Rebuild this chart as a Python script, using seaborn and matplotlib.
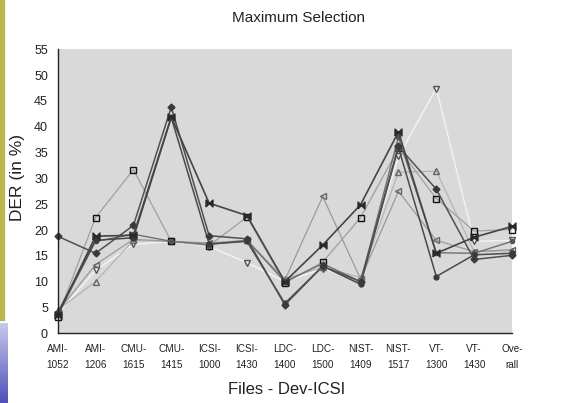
import matplotlib
matplotlib.use("Agg")
import matplotlib.pyplot as plt
from matplotlib.patches import Rectangle
import numpy as np
import pandas as pd
import seaborn as sns

# Files of the Dev-ICSI set (x axis)
files = ["AMI-\n1052", "AMI-\n1206", "CMU-\n1615", "CMU-\n1415", "ICSI-\n1000",
         "ICSI-\n1430", "LDC-\n1400", "LDC-\n1500", "NIST-\n1409", "NIST-\n1517",
         "VT-\n1300", "VT-\n1430", "Ove-\nrall"]

# DER (in %) of each system run, one list per run
der_tri_down = [3.8, 12.2, 17.2, 17.8, 16.8, 13.7, 10.0, 12.5, 10.2, 34.3, 47.4, 17.8, 18.0]
der_tri_up = [4.5, 10.0, 18.0, 17.8, 17.2, 18.0, 10.5, 12.8, 10.8, 31.2, 31.4, 15.8, 16.0]
der_tri_left = [4.2, 13.3, 18.2, 17.8, 17.5, 18.0, 10.3, 26.5, 10.5, 27.5, 18.0, 15.8, 16.2]
der_square = [3.2, 22.4, 31.7, 17.8, 17.0, 22.5, 9.7, 13.8, 22.4, 35.8, 26.1, 19.8, 20.1]
der_star = [3.5, 17.8, 19.2, 17.8, 17.2, 18.0, 10.0, 13.5, 10.0, 38.0, 15.6, 15.5, 17.8]
der_dot = [4.0, 18.0, 18.5, 41.8, 17.3, 17.8, 5.8, 13.0, 9.5, 36.0, 11.0, 15.2, 15.5]
der_diamond = [18.8, 15.5, 20.9, 43.8, 18.9, 18.3, 5.5, 13.0, 10.0, 36.2, 27.9, 14.3, 15.1]
der_bowtie = [3.5, 18.8, 19.0, 41.9, 25.2, 22.8, 10.0, 17.1, 24.9, 39.0, 15.5, 18.6, 20.7]

yticks = list(range(0, 56, 5))

bowtie = [(-1, -1), (-1, 1), (1, -1), (1, 1), (-1, -1)]

runs = [
    # name, values, line colour, marker, face, edge, line width, marker size
    ("tri_down", der_tri_down, "#f4f4f4", "v", "none", "#555555", 1.0, 4.0),
    ("tri_up", der_tri_up, "#b4b4b4", "^", "none", "#666666", 0.9, 4.0),
    ("tri_left", der_tri_left, "#9a9a9a", "<", "none", "#666666", 0.9, 4.0),
    ("square", der_square, "#a0a0a0", "s", "none", "#111111", 0.9, 4.5),
    ("star", der_star, "#707070", "o", "#555555", "#555555", 1.0, 3.0),
    ("dot", der_dot, "#4a4a4a", "o", "#3a3a3a", "#3a3a3a", 1.1, 3.5),
    ("diamond", der_diamond, "#505050", "D", "#3a3a3a", "#3a3a3a", 1.1, 3.5),
    ("bowtie", der_bowtie, "#444444", bowtie, "#2a2a2a", "#2a2a2a", 1.2, 5.0),
]

df = pd.concat(
    [pd.DataFrame({"file": np.arange(len(files)), "DER": vals, "run": name})
     for name, vals, *_ in runs],
    ignore_index=True,
)

sns.set_style("white")
plt.rcParams["font.family"] = ["Liberation Sans", "DejaVu Sans"]

fig = plt.figure(figsize=(5.70, 4.03), dpi=100)
ax = fig.add_axes([57.7 / 570, 1 - 333.3 / 403, (512 - 57.7) / 570, (333.3 - 49.3) / 403])
ax.set_facecolor("#d9d9d9")

for name, vals, color, marker, face, edge, lw, ms in runs:
    sns.lineplot(data=df[df["run"] == name], x="file", y="DER", ax=ax,
                 color=color, linewidth=lw, marker=marker, markersize=ms,
                 markerfacecolor=face, markeredgecolor=edge,
                 markeredgewidth=1.0, clip_on=False, legend=False)

ax.set_xlim(0, len(files) - 1)
ax.set_ylim(0, 55)
ax.set_xticks(range(len(files)))
ax.set_xticklabels(files, fontsize=7.2, color="#222222", linespacing=1.75)
ax.set_yticks(yticks)
ax.set_yticklabels([str(v) for v in yticks], fontsize=9, color="#222222")
ax.tick_params(axis="both", direction="out", length=5, width=1, color="#222222", pad=2)
ax.tick_params(axis="x", pad=3)

for side in ("top", "right"):
    ax.spines[side].set_visible(False)
for side in ("left", "bottom"):
    ax.spines[side].set_color("#222222")
    ax.spines[side].set_linewidth(1.0)

ax.set_xlabel("Files - Dev-ICSI", fontsize=12, color="#222222")
ax.xaxis.label.set_va("center")
ax.xaxis.set_label_coords((287 - 57.7) / 454.3, (333.3 - 390) / 284)
ax.set_ylabel("DER (in %)", fontsize=12.5, color="#222222")
ax.yaxis.label.set_va("center")
ax.yaxis.set_label_coords((18 - 57.7) / 454.3, (333.3 - 177) / 284)

fig.text(298 / 570, 1 - 18 / 403, "Maximum Selection", ha="center", va="center",
         fontsize=11, color="#222222")

# slide decorations along the left edge
fig.patches.append(Rectangle((0, 1 - 320 / 403), 4 / 570, 320 / 403,
                             transform=fig.transFigure, color="#b8b84e", zorder=0))
grad = np.linspace(0, 1, 64).reshape(-1, 1)
gax = fig.add_axes([0, 0, 8 / 570, 80 / 403])
gax.imshow(grad, aspect="auto", cmap=matplotlib.colors.LinearSegmentedColormap.from_list(
    "edge", ["#c8c8ee", "#5050b8"]), origin="upper")
gax.axis("off")

fig.savefig("out.png", dpi=100)
